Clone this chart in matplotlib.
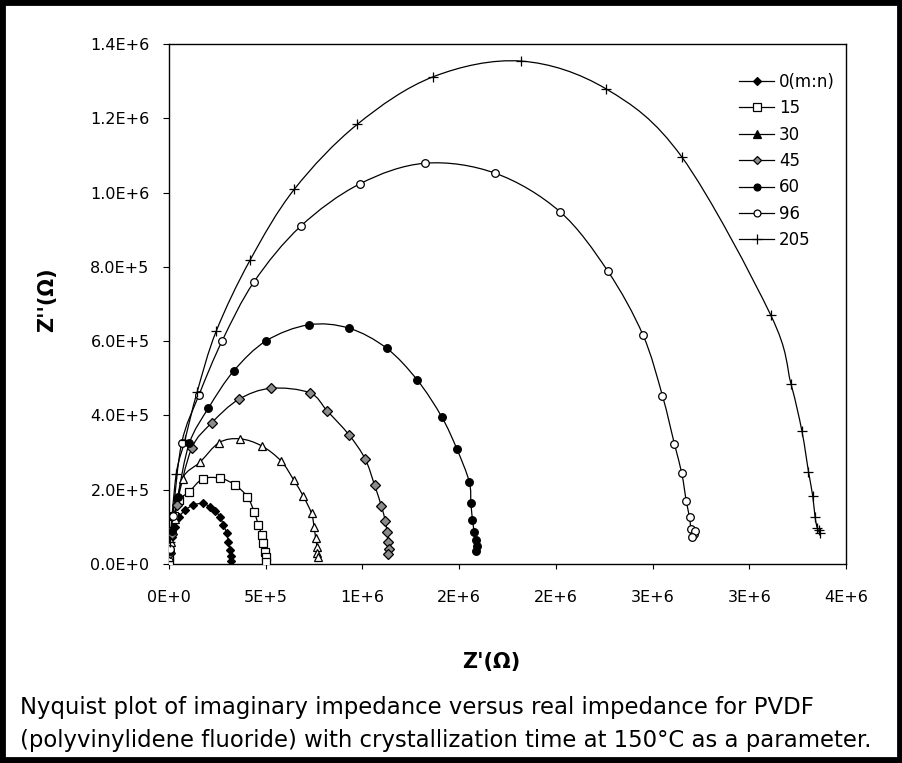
import matplotlib
matplotlib.use("Agg")
import matplotlib.pyplot as plt
import numpy as np
from matplotlib.path import Path
from matplotlib.patches import PathPatch, Rectangle
from matplotlib.lines import Line2D

# ---------------- data (Z' , Z'' in units of 1E+6 ohm) ----------------
labels = ["0(m:n)", "15", "30", "45", "60", "96", "205"]

x_0 = [0.000, 0.003, 0.014, 0.031, 0.053, 0.083, 0.126, 0.174, 0.212, 0.240, 0.264, 0.281, 0.298, 0.307, 0.315, 0.320, 0.322]
y_0 = [0.010, 0.040, 0.074, 0.100, 0.127, 0.145, 0.159, 0.163, 0.154, 0.142, 0.127, 0.105, 0.083, 0.060, 0.038, 0.022, 0.008]

x_15 = [0.000, 0.000, 0.002, 0.010, 0.025, 0.050, 0.105, 0.174, 0.264, 0.341, 0.405, 0.440, 0.462, 0.479, 0.488, 0.496, 0.500, 0.502]
y_15 = [0.005, 0.020, 0.045, 0.090, 0.130, 0.172, 0.195, 0.229, 0.231, 0.213, 0.181, 0.141, 0.105, 0.078, 0.056, 0.033, 0.018, 0.006]

x_30 = [0.002, 0.012, 0.030, 0.070, 0.160, 0.260, 0.367, 0.479, 0.580, 0.645, 0.695, 0.737, 0.750, 0.758, 0.765, 0.767, 0.768]
y_30 = [0.020, 0.060, 0.120, 0.230, 0.274, 0.327, 0.337, 0.318, 0.277, 0.226, 0.182, 0.136, 0.100, 0.070, 0.047, 0.030, 0.018]

x_45 = [0.003, 0.015, 0.040, 0.117, 0.221, 0.360, 0.525, 0.727, 0.818, 0.930, 1.014, 1.063, 1.098, 1.118, 1.127, 1.133, 1.135, 1.134]
y_45 = [0.030, 0.080, 0.160, 0.311, 0.380, 0.443, 0.473, 0.461, 0.412, 0.348, 0.283, 0.212, 0.156, 0.116, 0.085, 0.060, 0.040, 0.028]

x_60 = [0.004, 0.018, 0.045, 0.105, 0.204, 0.335, 0.503, 0.722, 0.930, 1.125, 1.284, 1.409, 1.488, 1.552, 1.561, 1.569, 1.578, 1.585, 1.590, 1.588]
y_60 = [0.035, 0.090, 0.180, 0.325, 0.420, 0.520, 0.601, 0.644, 0.635, 0.581, 0.495, 0.397, 0.310, 0.222, 0.163, 0.118, 0.087, 0.065, 0.048, 0.035]

x_96 = [0.005, 0.020, 0.066, 0.155, 0.275, 0.440, 0.680, 0.985, 1.324, 1.687, 2.020, 2.268, 2.450, 2.551, 2.613, 2.651, 2.674, 2.691, 2.699, 2.712, 2.718, 2.706]
y_96 = [0.040, 0.130, 0.327, 0.455, 0.601, 0.760, 0.909, 1.023, 1.079, 1.052, 0.949, 0.789, 0.617, 0.453, 0.323, 0.244, 0.170, 0.126, 0.093, 0.082, 0.088, 0.072]

x_205 = [0.005, 0.037, 0.082, 0.146, 0.245, 0.419, 0.648, 0.974, 1.367, 1.820, 2.260, 2.651, 3.111, 3.216, 3.272, 3.306, 3.328, 3.340, 3.352, 3.366, 3.362]
y_205 = [0.060, 0.241, 0.333, 0.464, 0.628, 0.818, 1.009, 1.184, 1.312, 1.354, 1.279, 1.096, 0.670, 0.484, 0.358, 0.249, 0.183, 0.127, 0.096, 0.083, 0.092]

series_x = [x_0, x_15, x_30, x_45, x_60, x_96, x_205]
series_y = [y_0, y_15, y_30, y_45, y_60, y_96, y_205]

x_ticks = [0.0, 0.5, 1.0, 1.5, 2.0, 2.5, 3.0, 3.5]
x_tick_labels = ["0E+0", "5E+5", "1E+6", "2E+6", "2E+6", "3E+6", "3E+6", "4E+6"]
y_ticks = [0.0, 0.2, 0.4, 0.6, 0.8, 1.0, 1.2, 1.4]
y_tick_labels = ["0.0E+0", "2.0E+5", "4.0E+5", "6.0E+5", "8.0E+5", "1.0E+6", "1.2E+6", "1.4E+6"]

caption = ("Nyquist plot of imaginary impedance versus real impedance for PVDF\n"
           "(polyvinylidene fluoride) with crystallization time at 150°C as a parameter.")

# ---------------- styles ----------------
styles = [
    dict(marker="D", ms=4.2, mfc="black", mec="black", lfc="black"),
    dict(marker="s", ms=6.0, mfc="white", mec="black", lfc="white"),
    dict(marker="^", ms=6.0, mfc="white", mec="black", lfc="black"),
    dict(marker="D", ms=5.0, mfc="0.55", mec="black", lfc="0.55"),
    dict(marker="o", ms=5.5, mfc="black", mec="black", lfc="black"),
    dict(marker="o", ms=5.5, mfc="white", mec="black", lfc="white"),
    dict(marker="+", ms=7.5, mfc="black", mec="black", lfc="black"),
]


def smooth_path(xs, ys):
    """Catmull-Rom style smoothed path through the data points (Excel smoothed line)."""
    p = np.column_stack([xs, ys]).astype(float)
    n = len(p)
    verts = [p[0]]
    codes = [Path.MOVETO]
    for i in range(n - 1):
        p0 = p[i - 1] if i > 0 else p[i]
        p1 = p[i]
        p2 = p[i + 1]
        p3 = p[i + 2] if i + 2 < n else p[i + 1]
        c1 = p1 + (p2 - p0) / 6.0
        c2 = p2 - (p3 - p1) / 6.0
        verts += [c1, c2, p2]
        codes += [Path.CURVE4] * 3
    return Path(verts, codes)


W, H = 903, 763
fig = plt.figure(figsize=(W / 100, H / 100), dpi=100)
fig.patch.set_facecolor("white")

ax = fig.add_axes([169 / W, 1 - 564 / H, (846 - 169) / W, (564 - 44) / H])
ax.set_xlim(0, 3.5)
ax.set_ylim(0, 1.4)

handles = []
for xs, ys, lab, st in zip(series_x, series_y, labels, styles):
    ax.add_patch(PathPatch(smooth_path(xs, ys), facecolor="none", edgecolor="black", lw=0.9, zorder=2))
    ax.plot(xs, ys, linestyle="none", marker=st["marker"], markersize=st["ms"],
            markerfacecolor=st["mfc"], markeredgecolor=st["mec"], markeredgewidth=0.9, zorder=3)
    handles.append(Line2D([], [], color="black", lw=0.9, marker=st["marker"], markersize=st["ms"] * 0.9,
                          markerfacecolor=st["lfc"], markeredgecolor=st["mec"], markeredgewidth=0.9,
                          label=lab))

ax.set_xticks(x_ticks)
ax.set_xticklabels(x_tick_labels)
ax.set_yticks(y_ticks)
ax.set_yticklabels(y_tick_labels)

for lbl in ax.get_xticklabels() + ax.get_yticklabels():
    lbl.set_fontfamily("DejaVu Sans")
    lbl.set_fontsize(11.5)
ax.tick_params(axis="x", direction="out", length=3.5, width=0.8, pad=15, colors="black")
ax.tick_params(axis="y", direction="out", length=4, width=0.8, pad=10, colors="black")
for sp in ax.spines.values():
    sp.set_linewidth(1.0)
    sp.set_color("black")

fig.text(491 / W, 1 - 662 / H, "Z'(Ω)", ha="center", va="center",
         fontsize=15, fontweight="bold", family="DejaVu Sans")
fig.text(47 / W, 1 - 300 / H, "Z''(Ω)", ha="center", va="center", rotation=90,
         fontsize=15, fontweight="bold", family="DejaVu Sans")

leg = fig.legend(handles=handles, loc="upper right", bbox_to_anchor=(835 / W, 1 - 73 / H),
                 frameon=False, prop=dict(family="DejaVu Sans", size=12),
                 handlelength=2.1, handletextpad=0.3, labelspacing=0.5, borderpad=0,
                 borderaxespad=0)

fig.text(20 / W, 1 - 724 / H, caption, ha="left", va="center", fontsize=16.4,
         family="DejaVu Sans", linespacing=1.6)

fig.add_artist(Rectangle((0, 0), 1, 1, transform=fig.transFigure, fill=False,
                         edgecolor="black", linewidth=8.5, clip_on=False))

fig.savefig("out.png", dpi=100)
